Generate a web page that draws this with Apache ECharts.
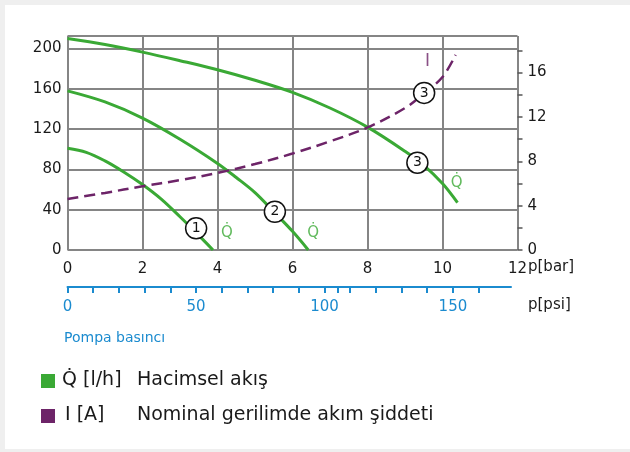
<!DOCTYPE html>
<html>
<head>
<meta charset="utf-8">
<script src="https://cdn.jsdelivr.net/npm/echarts@6/dist/echarts.min.js"></script>
<style>
html,body{margin:0;padding:0;background:#efefef;width:630px;height:452px;overflow:hidden;}
#card{position:absolute;left:5px;top:5px;width:640px;height:444px;background:#fff;}
#chart{position:absolute;left:0;top:0;width:630px;height:452px;}
</style>
</head>
<body>
<div id="card"></div>
<div id="chart"></div>
<script>
// ---- data ----
const barTicks = [0, 2, 4, 6, 8, 10, 12];
const flowTicks = [0, 40, 80, 120, 160, 200];
const ampTicks = [0, 2, 4, 6, 8, 10, 12, 14, 16, 18];
const ampLabels = [0, 4, 8, 12, 16];
const psiTicks = [0, 10, 20, 30, 40, 50, 60, 70, 80, 90, 100, 105, 110, 120, 130, 140, 150, 160];
const psiLabels = [0, 50, 100, 150];

const flow1 = [[0,101],[0.5,97],[1,88.5],[1.5,77.5],[2,65],[2.5,50.5],[3,33],[3.5,14.5],[3.88,0]];
const flow2 = [[0,158],[1,147],[2,131],[3,110],[4,86],[4.5,72],[5,57],[5.5,38],[6,18.5],[6.42,0]];
const flow3 = [[0,210],[1,204],[2,196.5],[3,188],[4,179],[5,168.5],[6,156.5],[7,141],[8,122],[9,98],[9.5,84],[10,66],[10.4,47]];
const current3 = [[0,4.6],[1,5.15],[2,5.75],[3,6.3],[4,6.95],[5,7.75],[6,8.7],[7,9.8],[8,11.05],[9,12.8],[9.5,14.1],[10,15.6],[10.35,17.6]];

const circleMarks = [[3.43,21.5,'1'],[5.53,38,'2'],[9.33,86.7,'3'],[9.51,156,'3']];
const qLabels = [[4.25,16.6,'Q\u0307'],[6.55,16.6,'Q\u0307'],[10.38,66.2,'Q\u0307']];
const iLabels = [[9.6,187,'I']];

const GREEN = '#3aa935';
const PURPLE = '#6d2468';
const BLUE = '#1b8bcf';
const GRID = '#858585';
const FONT = 'DejaVu Sans';

const chart = echarts.init(document.getElementById('chart'), null, {renderer:'canvas'});
const option = {
  animation: false,
  textStyle: {fontFamily: FONT},
  grid: [
    {left: 67.5, right: 112.5, top: 36, bottom: 202, containLabel: false},
    {left: 67.5, right: 119, top: 36, bottom: 202, containLabel: false}
  ],
  xAxis: [
    {
      type: 'value', gridIndex: 0, min: 0, max: 12, interval: 2,
      axisLine: {show: false}, axisTick: {show: false},
      splitLine: {show: true, lineStyle: {color: GRID, width: 2}},
      axisLabel: {color: '#1a1a1a', fontSize: 15, margin: 12, fontFamily: FONT,
                  customValues: barTicks}
    },
    {
      type: 'value', gridIndex: 1, min: 0, max: 172.6, position: 'bottom', offset: 37,
      axisLine: {show: true, onZero: false, lineStyle: {color: BLUE, width: 2}},
      axisTick: {show: true, length: 6, lineStyle: {color: BLUE, width: 2}, customValues: psiTicks},
      splitLine: {show: false},
      axisLabel: {color: BLUE, fontSize: 15, margin: 13, fontFamily: FONT, customValues: psiLabels}
    }
  ],
  yAxis: [
    {
      type: 'value', gridIndex: 0, min: 0, max: 212.5, interval: 40,
      axisLine: {show: false}, axisTick: {show: false},
      splitLine: {show: true, lineStyle: {color: GRID, width: 2}},
      axisLabel: {color: '#1a1a1a', fontSize: 15, margin: 6, fontFamily: FONT, customValues: flowTicks}
    },
    {
      type: 'value', gridIndex: 0, min: 0, max: 19.3, position: 'right',
      axisLine: {show: false, onZero: false},
      axisTick: {show: true, length: 5, lineStyle: {color: '#555', width: 1.5}, customValues: ampTicks},
      splitLine: {show: false},
      axisLabel: {color: '#1a1a1a', fontSize: 15, margin: 10, fontFamily: FONT, customValues: ampLabels}
    },
    {type: 'value', gridIndex: 1, show: false, min: 0, max: 1, axisLine: {onZero: false}}
  ],
  series: [
    {type:'line', xAxisIndex:0, yAxisIndex:0, data: flow1, smooth: 0.35, symbol:'none',
     lineStyle:{color:GREEN, width:3}, z: 3},
    {type:'line', xAxisIndex:0, yAxisIndex:0, data: flow2, smooth: 0.35, symbol:'none',
     lineStyle:{color:GREEN, width:3}, z: 3},
    {type:'line', xAxisIndex:0, yAxisIndex:0, data: flow3, smooth: 0.35, symbol:'none',
     lineStyle:{color:GREEN, width:3}, z: 3},
    {type:'line', xAxisIndex:0, yAxisIndex:1, data: current3, smooth: 0.35, symbol:'none',
     lineStyle:{color:PURPLE, width:2.5, type:[11,6], cap:'butt'}, z: 3},
    {type:'scatter', xAxisIndex:0, yAxisIndex:0, data: circleMarks, symbol:'circle', symbolSize: 21,
     itemStyle:{color:'#fff', borderColor:'#111', borderWidth:1.5, opacity:1},
     label:{show:true, position:'inside', formatter: p => p.data[2], color:'#111', fontSize:14, fontFamily: FONT},
     z: 5},
    {type:'scatter', xAxisIndex:0, yAxisIndex:0, data: qLabels, symbolSize: 0,
     label:{show:true, position:'inside', formatter: p => p.data[2], color:GREEN, fontSize:15, fontFamily: FONT},
     z: 5},
    {type:'scatter', xAxisIndex:0, yAxisIndex:0, data: iLabels, symbolSize: 0,
     label:{show:true, position:'inside', formatter: p => p.data[2], color:PURPLE, fontSize:17, fontFamily: FONT},
     z: 5}
  ],
  graphic: [
    {type:'text', left: 528, top: 260, style:{text:'p[bar]', fill:'#1a1a1a', font:'15px "DejaVu Sans"'}},
    {type:'text', left: 528, top: 298, style:{text:'p[psi]', fill:'#1a1a1a', font:'15px "DejaVu Sans"'}},
    {type:'text', left: 64, top: 331, style:{text:'Pompa basıncı', fill:BLUE, font:'14px "DejaVu Sans"'}},
    {type:'rect', shape:{x:41, y:374, width:14, height:14}, style:{fill:GREEN}},
    {type:'rect', shape:{x:41, y:409, width:14, height:14}, style:{fill:PURPLE}},
    {type:'text', left: 62, top: 371, style:{text:'Q\u0307 [l/h]', fill:'#1a1a1a', font:'19px "DejaVu Sans"'}},
    {type:'text', left: 137, top: 371, style:{text:'Hacimsel akış', fill:'#1a1a1a', font:'19px "DejaVu Sans"'}},
    {type:'text', left: 65, top: 406, style:{text:'I [A]', fill:'#1a1a1a', font:'19px "DejaVu Sans"'}},
    {type:'text', left: 137, top: 406, style:{text:'Nominal gerilimde akım şiddeti', fill:'#1a1a1a', font:'19px "DejaVu Sans"'}}
  ]
};
chart.setOption(option);
</script>
</body>
</html>
